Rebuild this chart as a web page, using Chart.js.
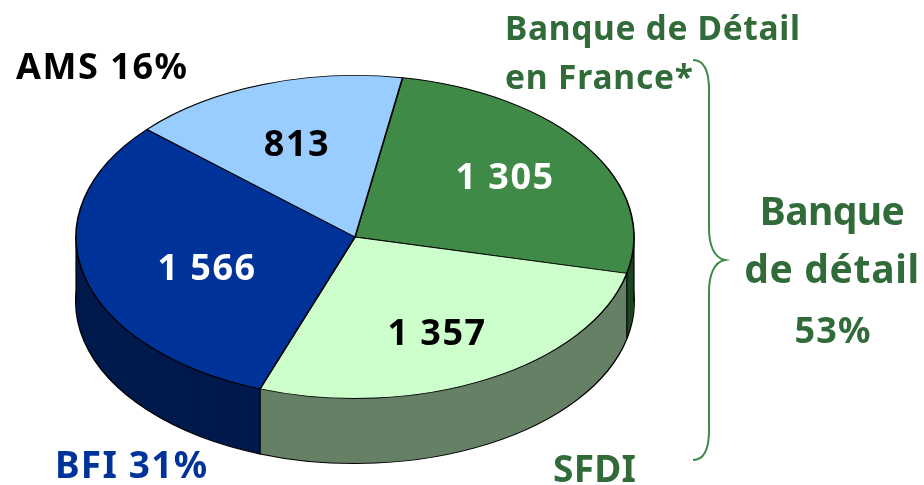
<!DOCTYPE html>
<html><head><meta charset="utf-8">
<style>html,body{margin:0;padding:0;background:#fff}canvas{display:block}</style>
<script src="https://cdn.jsdelivr.net/npm/chart.js@4"></script>
</head><body><canvas id="c" width="924" height="485"></canvas>
<script>
const categories = ["Banque de Détail en France", "SFDI", "BFI", "AMS"];
const values = [1305, 1357, 1566, 813];
const valueTexts = ["1 305", "1 357", "1 566", "813"];
const topColors = ["#3f8a46", "#ccffcc", "#003399", "#99ccff"];
const wallColors = ["#1f4523", "#668066", "#001a4d", "#4d6680"];
const valueColors = ["#ffffff", "#000000", "#ffffff", "#000000"];

const FONT = "'Noto Sans'";
const K = 0.579, DEPTH = 65;
const GREEN = "#316b3a", BLUE = "#003399";
const valueAnchors = [[505,189],[437,345],[207,280],[297,156]];
const outerLabels = [
  {t:"AMS 16%", x:16, y:79, s:36, c:"#000", a:"left", w:171},
  {t:"Banque de Détail", x:505, y:40, s:33.5, c:GREEN, a:"left", w:295},
  {t:"en France*", x:505, y:89, s:33.5, c:GREEN, a:"left", w:188},
  {t:"Banque", x:832, y:225, s:39, c:GREEN, a:"center", w:145},
  {t:"de détail", x:832, y:283, s:39, c:GREEN, a:"center", w:175},
  {t:"53%", x:833, y:343, s:36, c:GREEN, a:"center", w:76},
  {t:"SFDI", x:553, y:482, s:37, c:GREEN, a:"left", w:83},
  {t:"BFI 31%", x:55, y:478, s:37, c:BLUE, a:"left", w:152}
];

function squash(ctx, el, dy){
  ctx.translate(el.x, el.y + dy);
  ctx.scale(1, K);
  ctx.translate(-el.x, -el.y);
}
function fitText(ctx, l){
  ctx.font = "bold " + l.s + "px " + FONT;
  ctx.letterSpacing = "0px";
  const w = ctx.measureText(l.t).width;
  const sp = (l.w - w) / Math.max(1, l.t.length - 1);
  ctx.letterSpacing = sp.toFixed(2) + "px";
}
const pie3d = {
  id: "pie3d",
  beforeDatasetsDraw(chart){
    const ctx = chart.ctx, arcs = chart.getDatasetMeta(0).data;
    for (let dy = DEPTH; dy >= 1; dy--){
      arcs.forEach((el, i) => {
        const o = el.options;
        el.options = Object.assign({}, o, {
          backgroundColor: wallColors[i],
          borderColor: "#000",
          borderWidth: dy === DEPTH ? 1.8 : 0
        });
        ctx.save(); squash(ctx, el, dy); el.draw(ctx); ctx.restore();
        el.options = o;
      });
    }
    const el0 = arcs[0], r = el0.outerRadius;
    const edges = arcs.map(e => e.startAngle).filter(a => Math.sin(a) > 0);
    const xs = edges.map(a => [el0.x + r*Math.cos(a), el0.y + K*r*Math.sin(a)]);
    xs.push([el0.x - r, el0.y], [el0.x + r, el0.y]);
    ctx.save();
    ctx.strokeStyle = "#000"; ctx.lineWidth = 1.2;
    xs.forEach(([x,y]) => { ctx.beginPath(); ctx.moveTo(x,y); ctx.lineTo(x,y+DEPTH); ctx.stroke(); });
    ctx.restore();
    ctx.save();
    squash(ctx, el0, 0);
  },
  afterDatasetsDraw(chart){
    chart.ctx.restore();
  },
  afterDraw(chart){
    const ctx = chart.ctx;
    ctx.save();
    ctx.strokeStyle = "#3f8a46"; ctx.lineWidth = 2;
    ctx.beginPath();
    ctx.moveTo(693,60);
    ctx.bezierCurveTo(703,60,709,70,709,90);
    ctx.lineTo(709,228);
    ctx.bezierCurveTo(709,245,714,258,725,260);
    ctx.bezierCurveTo(714,262,709,275,709,292);
    ctx.lineTo(709,430);
    ctx.bezierCurveTo(709,450,703,460,693,460);
    ctx.stroke();
    ctx.textBaseline = "alphabetic";
    valueTexts.forEach((t,i) => {
      ctx.font = "bold 36px " + FONT;
      ctx.letterSpacing = "1.5px";
      ctx.textAlign = "center";
      ctx.fillStyle = valueColors[i];
      ctx.fillText(t, valueAnchors[i][0], valueAnchors[i][1]);
    });
    outerLabels.forEach(l => {
      fitText(ctx, l);
      ctx.textAlign = l.a;
      ctx.fillStyle = l.c;
      ctx.fillText(l.t, l.x, l.y);
    });
    ctx.restore();
  }
};
new Chart(document.getElementById("c"), {
  type: "pie",
  data: { labels: categories, datasets: [{
    data: values, backgroundColor: topColors, borderColor: "#000", borderWidth: 1.6,
    radius: 279, clip: false
  }]},
  options: {
    responsive: false, animation: false, rotation: 9.8,
    layout: { padding: { right: 214, bottom: 11 } },
    plugins: { legend: {display:false}, tooltip: {enabled:false} }
  },
  plugins: [pie3d]
});
</script></body></html>
